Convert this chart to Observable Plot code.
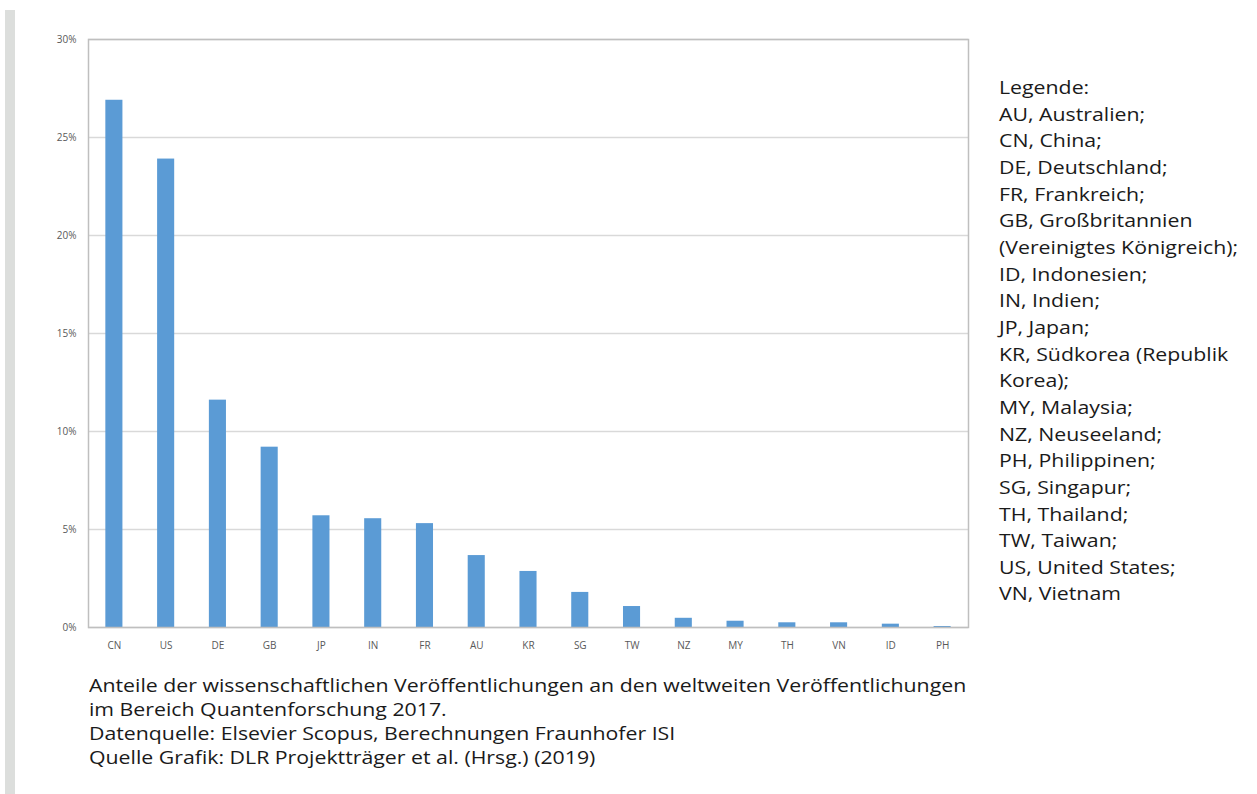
<!DOCTYPE html>
<html>
<head>
<meta charset="utf-8">
<script src="https://cdn.jsdelivr.net/npm/d3@7"></script>
<script src="https://cdn.jsdelivr.net/npm/@observablehq/plot@0.6"></script>
<style>
  html, body { margin: 0; padding: 0; background: #fff; }
  #wrap { position: relative; width: 1257px; height: 794px; overflow: hidden; font-family: "Open Sans", sans-serif; }
  #side { position: absolute; left: 5px; top: 10px; width: 10px; height: 784px; background: #dcdedc; }
  #chart { position: absolute; left: 0; top: 0; }
  #legend { position: absolute; left: 999px; top: 74px; font-size: 19px; line-height: 26.65px; color: #1a1a1a; white-space: nowrap; transform: scaleX(1.12); transform-origin: 0 0; }
  #caption { position: absolute; left: 89px; top: 673px; font-size: 19px; line-height: 24px; color: #1a1a1a; white-space: nowrap; transform: scaleX(1.12); transform-origin: 0 0; }
</style>
</head>
<body>
<div id="wrap">
  <div id="side"></div>
  <div id="chart"></div>
  <div id="legend"></div>
  <div id="caption"></div>
</div>
<script>
const countries = ["CN","US","DE","GB","JP","IN","FR","AU","KR","SG","TW","NZ","MY","TH","VN","ID","PH"];
const shares = [26.9, 23.9, 11.6, 9.2, 5.7, 5.55, 5.3, 3.67, 2.86, 1.79, 1.07, 0.47, 0.32, 0.24, 0.24, 0.17, 0.05];
const yTicks = [0, 5, 10, 15, 20, 25, 30];
const legendLines = [
  "Legende:",
  "AU, Australien;",
  "CN, China;",
  "DE, Deutschland;",
  "FR, Frankreich;",
  "GB, Großbritannien",
  "(Vereinigtes Königreich);",
  "ID, Indonesien;",
  "IN, Indien;",
  "JP, Japan;",
  "KR, Südkorea (Republik",
  "Korea);",
  "MY, Malaysia;",
  "NZ, Neuseeland;",
  "PH, Philippinen;",
  "SG, Singapur;",
  "TH, Thailand;",
  "TW, Taiwan;",
  "US, United States;",
  "VN, Vietnam"
];
const captionLines = [
  "Anteile der wissenschaftlichen Veröffentlichungen an den weltweiten Veröffentlichungen",
  "im Bereich Quantenforschung 2017.",
  "Datenquelle: Elsevier Scopus, Berechnungen Fraunhofer ISI",
  "Quelle Grafik: DLR Projektträger et al. (Hrsg.) (2019)"
];

const data = countries.map((c, i) => ({country: c, share: shares[i]}));

const chart = Plot.plot({
  width: 990,
  height: 660,
  marginLeft: 88,
  marginRight: 22,
  marginTop: 39,
  marginBottom: 33,
  style: {fontFamily: "'Open Sans', sans-serif", fontSize: "10px", color: "#595959", background: "transparent"},
  x: {domain: countries, paddingInner: 0.67, paddingOuter: 0.335, round: false, label: null, tickSize: 0, tickPadding: 14},
  y: {domain: [0, 30], ticks: yTicks, tickFormat: d => d + "%", label: null, tickSize: 0, tickPadding: 12},
  marks: [
    Plot.gridY(yTicks, {stroke: "#d9d9d9", strokeOpacity: 1, strokeWidth: 1.3}),
    Plot.barY(data, {x: "country", y: "share", fill: "#5b9bd5"}),
    Plot.frame({stroke: "#bfbfbf", strokeWidth: 1.5})
  ]
});
document.getElementById("chart").appendChild(chart);

const leg = document.getElementById("legend");
legendLines.forEach(t => { const d = document.createElement("div"); d.textContent = t; leg.appendChild(d); });
const cap = document.getElementById("caption");
captionLines.forEach(t => { const d = document.createElement("div"); d.textContent = t; cap.appendChild(d); });
</script>
</body>
</html>
